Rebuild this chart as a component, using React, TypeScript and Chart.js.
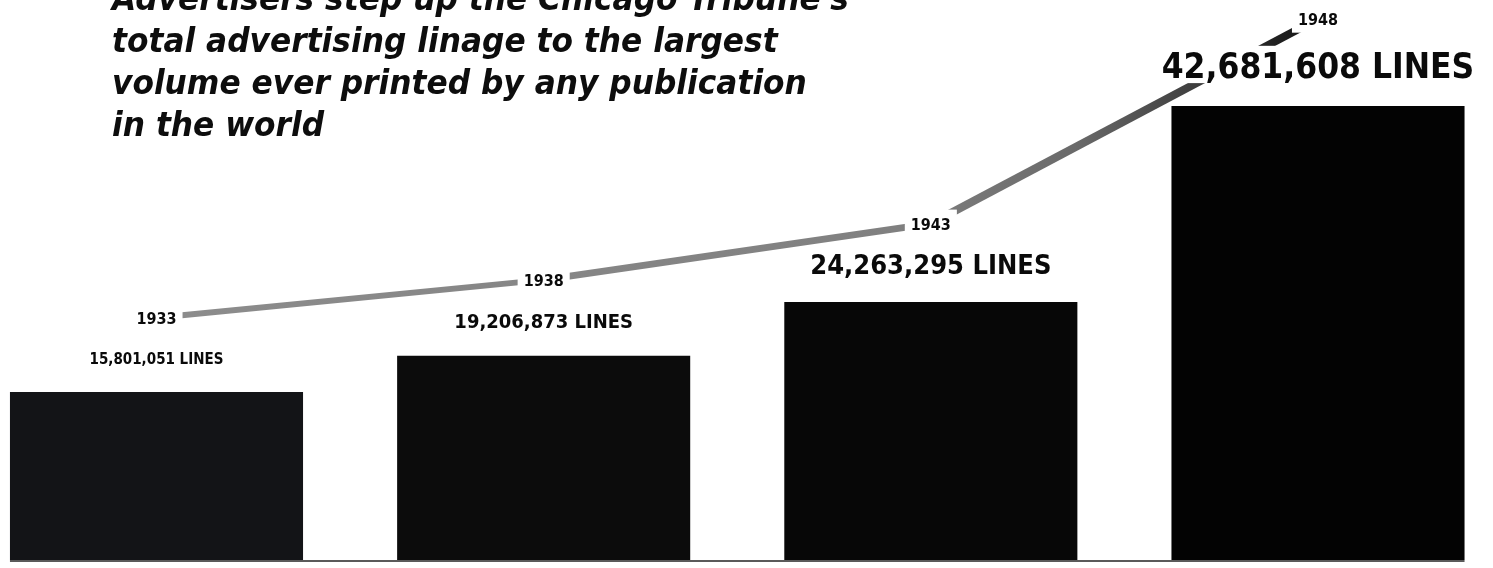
import React, { useEffect, useRef } from "react";
import { Chart, registerables } from "chart.js";

Chart.register(...registerables);

// ---- data ----
const years = ["1933", "1938", "1943", "1948"];
const linage = [15801051, 19206873, 24263295, 42681608];
const valueLabels = [
  "15,801,051 LINES",
  "19,206,873 LINES",
  "24,263,295 LINES",
  "42,681,608 LINES",
];
const titleLines = [
  "Advertisers step up the Chicago Tribune's",
  "total advertising linage to the largest",
  "volume ever printed by any publication",
  "in the world",
];

// ---- style ----
const FONT = '"DejaVu Sans", "Noto Sans", sans-serif';
const VALUE_FONT_SIZES = [15, 20, 27, 35];
const SQUEEZE = 0.9;
const BAR_COLORS = ["#131417", "#0c0c0c", "#070707", "#030303"];
const RIBBON_WIDTHS = [6, 7, 8];

const adPlugin = {
  id: "adLabels",
  beforeDatasetsDraw(chart: any) {
    const { ctx, chartArea } = chart;
    const bars = chart.getDatasetMeta(0).data;
    if (!bars.length) return;
    const first = bars[0];
    const last = bars[bars.length - 1];
    ctx.save();
    ctx.strokeStyle = "#5a5a5a";
    ctx.lineWidth = 2;
    ctx.beginPath();
    ctx.moveTo(first.x - first.width / 2, chartArea.bottom + 1);
    ctx.lineTo(last.x + last.width / 2, chartArea.bottom + 1);
    ctx.stroke();
    ctx.restore();
  },
  afterDatasetsDraw(chart: any) {
    const ctx = chart.ctx;
    const bars = chart.getDatasetMeta(0).data;
    const pts = chart.getDatasetMeta(1).data;
    ctx.save();
    ctx.textAlign = "center";
    ctx.textBaseline = "alphabetic";
    bars.forEach((el: any, i: number) => {
      const size = VALUE_FONT_SIZES[i];
      ctx.font = `bold ${size}px ${FONT}`;
      const w = ctx.measureText(valueLabels[i]).width * SQUEEZE;
      const base = el.y - 28;
      ctx.fillStyle = "#ffffff";
      ctx.fillRect(el.x - w / 2 - 6, base - size * 0.78 - 5, w + 12, size * 0.78 + 10);
      ctx.fillStyle = "#0a0a0a";
      ctx.save();
      ctx.translate(el.x, base);
      ctx.scale(SQUEEZE, 1);
      ctx.fillText(valueLabels[i], 0, 0);
      ctx.restore();
    });
    pts.forEach((pt: any, i: number) => {
      ctx.font = `bold 16px ${FONT}`;
      const w = ctx.measureText(years[i]).width * SQUEEZE;
      ctx.fillStyle = "#ffffff";
      ctx.fillRect(pt.x - w / 2 - 6, pt.y - 14, w + 12, 28);
      ctx.fillStyle = "#0a0a0a";
      ctx.save();
      ctx.translate(pt.x, pt.y + 6);
      ctx.scale(SQUEEZE, 1);
      ctx.fillText(years[i], 0, 0);
      ctx.restore();
    });
    ctx.restore();
  },
  afterDraw(chart: any) {
    const ctx = chart.ctx;
    ctx.save();
    ctx.font = `italic bold 34px ${FONT}`;
    ctx.textAlign = "left";
    ctx.textBaseline = "alphabetic";
    ctx.fillStyle = "#0d0d0d";
    titleLines.forEach((t, i) => {
      ctx.save();
      ctx.translate(112, 10 + i * 42);
      ctx.scale(0.92, 1);
      ctx.fillText(t, 0, 0);
      ctx.restore();
    });
    ctx.restore();
  },
};

export default function App() {
  const ref = useRef<HTMLCanvasElement | null>(null);

  useEffect(() => {
    document.body.style.margin = "0";
    document.body.style.background = "#ffffff";
    const canvas = ref.current;
    if (!canvas) return;
    const chart = new Chart(canvas, {
      type: "bar",
      data: {
        labels: years,
        datasets: [
          {
            type: "bar",
            label: "Total advertising linage",
            data: linage,
            backgroundColor: BAR_COLORS,
            borderWidth: 0,
            barPercentage: 0.757,
            categoryPercentage: 1,
            yAxisID: "y",
            order: 2,
            clip: false as any,
          },
          {
            type: "line",
            label: "Trend",
            data: linage,
            yAxisID: "y2",
            order: 1,
            pointRadius: 0,
            borderCapStyle: "butt",
            borderWidth: 7,
            tension: 0,
            borderColor: (c: any) => {
              const ch = c.chart;
              const g = ch.ctx.createLinearGradient(0, 0, ch.width, 0);
              g.addColorStop(0, "#8f8f8f");
              g.addColorStop(0.6, "#808080");
              g.addColorStop(0.72, "#6a6a6a");
              g.addColorStop(0.82, "#333333");
              g.addColorStop(0.88, "#141414");
              g.addColorStop(1, "#111111");
              return g;
            },
            segment: {
              borderWidth: (c: any) => RIBBON_WIDTHS[c.p0DataIndex] ?? 7,
            },
            clip: false as any,
          } as any,
        ],
      },
      options: {
        responsive: false,
        animation: false,
        events: [],
        layout: { padding: { left: 156.5, right: 175, top: 0, bottom: 8 } },
        plugins: {
          legend: { display: false },
          tooltip: { enabled: false },
          title: { display: false },
        },
        scales: {
          x: { type: "category", offset: false, display: false },
          y: { display: false, min: 0, max: 52660000 },
          y2: { display: false, position: "right", min: -5970000, max: 44360000 },
        },
      },
      plugins: [adPlugin],
    });
    return () => chart.destroy();
  }, []);

  return (
    <div style={{ width: 1493, height: 568, background: "#ffffff" }}>
      <canvas ref={ref} width={1493} height={568} />
    </div>
  );
}
